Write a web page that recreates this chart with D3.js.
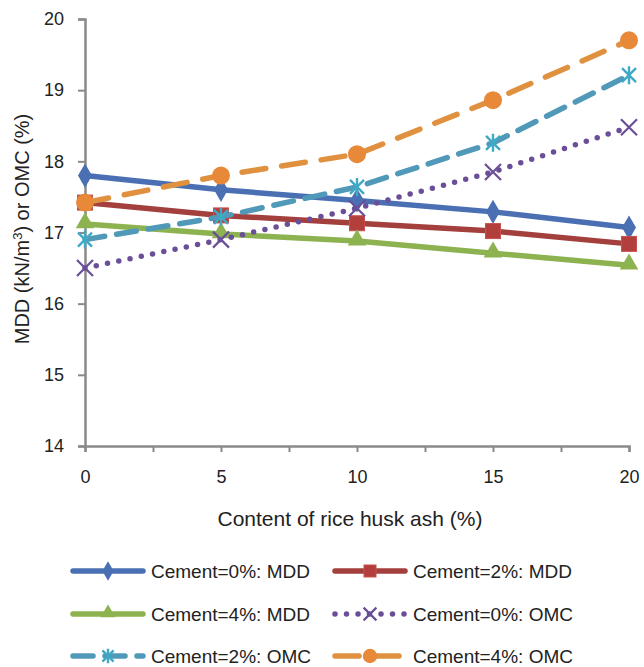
<!DOCTYPE html>
<html>
<head>
  <meta charset="utf-8">
  <title>MDD and OMC vs rice husk ash content</title>
  <style>
    body { margin: 0; background: white; font-family: Arial, "Liberation Sans", sans-serif; }
    .tick text { font-size: 18px; fill: #222; font-family: Arial, "Liberation Sans", sans-serif; }
    .axis-label { font-size: 20px; fill: #222; }
    .legend text { font-size: 19px; fill: #222; }
  </style>
  <script src="https://d3js.org/d3.v7.min.js"></script>
</head>
<body>
  <div id="chart"></div>
  <script>
    // Rice husk ash content (%)
    const ashContent = [0, 5, 10, 15, 20];

    // series values
    const mdd0 = [17.80, 17.60, 17.45, 17.29, 17.07];
    const mdd2 = [17.42, 17.24, 17.13, 17.02, 16.84];
    const mdd4 = [17.12, 16.98, 16.88, 16.71, 16.54];
    const omc0 = [16.50, 16.90, 17.34, 17.85, 18.48];
    const omc2 = [16.90, 17.22, 17.64, 18.26, 19.21];
    const omc4 = [17.42, 17.80, 18.10, 18.86, 19.70];

    const seriesNames = ["Cement=0%: MDD", "Cement=2%: MDD", "Cement=4%: MDD",
                         "Cement=0%: OMC", "Cement=2%: OMC", "Cement=4%: OMC"];
    const xTicks = [0, 5, 10, 15, 20];
    const yTicks = [14, 15, 16, 17, 18, 19, 20];

    const series = [
      { name: seriesNames[0], values: mdd0, color: "#4a70b3", dash: null, marker: "diamond" },
      { name: seriesNames[1], values: mdd2, color: "#a33f3c", dash: null, marker: "square" },
      { name: seriesNames[2], values: mdd4, color: "#8db250", dash: null, marker: "triangle" },
      { name: seriesNames[3], values: omc0, color: "#6a4e98", dash: "0,11.5", marker: "cross" },
      { name: seriesNames[4], values: omc2, color: "#5199b8", dash: "20,12", marker: "star" },
      { name: seriesNames[5], values: omc4, color: "#e0913f", dash: "24,16", marker: "circle" }
    ];

    const W = 644, H = 667;
    const svg = d3.select("#chart").append("svg").attr("width", W).attr("height", H);

    const x = d3.scaleLinear().domain([0, 20]).range([85, 629]);
    const y = d3.scaleLinear().domain([14, 20]).range([446, 19]);

    // axes
    const xAxis = svg.append("g")
      .attr("transform", `translate(0,${y(14)})`)
      .call(d3.axisBottom(x).tickValues(d3.range(0, 20.1, 2.5)).tickSize(6).tickPadding(15)
        .tickFormat(d => xTicks.includes(d) ? d3.format("d")(d) : ""));
    const yAxis = svg.append("g")
      .attr("transform", `translate(${x(0)},0)`)
      .call(d3.axisLeft(y).tickValues(yTicks).tickSize(7).tickPadding(14).tickFormat(d3.format("d")));
    [xAxis, yAxis].forEach(a => {
      a.attr("font-size", null).attr("font-family", null);
      a.select(".domain").attr("stroke", "#8a8a8a").attr("stroke-width", 2.5);
      a.selectAll(".tick line").attr("stroke", "#8a8a8a").attr("stroke-width", 2);
    });
    xAxis.selectAll(".tick text").attr("dy", "0.9em");

    svg.append("text").attr("class", "axis-label")
      .attr("x", 350).attr("y", 526).attr("text-anchor", "middle")
      .style("font-size", "21px")
      .text("Content of rice husk ash (%)");

    const yl = svg.append("text").attr("class", "axis-label")
      .attr("transform", `translate(29,229) rotate(-90)`)
      .attr("text-anchor", "middle");
    yl.append("tspan").text("MDD (kN/m");
    yl.append("tspan").attr("baseline-shift", "super").attr("font-size", "13px").text("3");
    yl.append("tspan").text(") or OMC (%)");

    // marker drawing, s = scale (legend markers are a bit smaller)
    function drawMarker(g, type, color, cx, cy, s = 1) {
      if (type === "diamond") {
        g.append("path").attr("d", d3.symbol(d3.symbolDiamond, 170 * s * s)())
          .attr("transform", `translate(${cx},${cy})`).attr("fill", color);
      } else if (type === "square") {
        const h = 7.5 * s;
        g.append("rect").attr("x", cx - h).attr("y", cy - h).attr("width", 2 * h).attr("height", 2 * h)
          .attr("fill", "#b33f3c").attr("stroke", "#c8504d").attr("stroke-width", 1);
      } else if (type === "triangle") {
        g.append("path").attr("d", d3.symbol(d3.symbolTriangle, 150 * s * s)())
          .attr("transform", `translate(${cx},${cy - 1})`).attr("fill", color);
      } else if (type === "cross") {
        const h = 8 * s;
        g.append("path").attr("d", `M${cx - h},${cy - h}L${cx + h},${cy + h}M${cx - h},${cy + h}L${cx + h},${cy - h}`)
          .attr("stroke", color).attr("stroke-width", 2.2).attr("fill", "none");
      } else if (type === "star") {
        const h = 7 * s, v = 9 * s;
        g.append("path").attr("d", `M${cx - h},${cy - h}L${cx + h},${cy + h}M${cx - h},${cy + h}L${cx + h},${cy - h}M${cx},${cy - v}L${cx},${cy + v}`)
          .attr("stroke", "#3fa9c6").attr("stroke-width", 2.4).attr("fill", "none");
      } else if (type === "circle") {
        g.append("circle").attr("cx", cx).attr("cy", cy).attr("r", 9 * s).attr("fill", "#e8893a");
      }
    }

    const line = d3.line().x((d, i) => x(ashContent[i])).y(d => y(d));
    const plot = svg.append("g");

    // series drawn in legend order, later ones on top
    series.forEach(s => {
      plot.append("path").datum(s.values)
        .attr("d", line)
        .attr("fill", "none")
        .attr("stroke", s.color)
        .attr("stroke-width", 5.5)
        .attr("stroke-linecap", s.dash ? "round" : "butt")
        .attr("stroke-dasharray", s.dash);
      s.values.forEach((v, i) => drawMarker(plot, s.marker, s.color, x(ashContent[i]), y(v)));
    });

    // legend
    const legend = svg.append("g").attr("class", "legend");
    const colX = [73, 335];
    const rowY = [571, 614, 656];
    series.forEach((s, k) => {
      const lx = colX[k % 2], ly = rowY[Math.floor(k / 2)];
      legend.append("line")
        .attr("x1", lx).attr("x2", lx + 70).attr("y1", ly).attr("y2", ly)
        .attr("stroke", s.color).attr("stroke-width", 5.5)
        .attr("stroke-linecap", "round")
        .attr("stroke-dasharray", s.dash);
      drawMarker(legend, s.marker, s.color, lx + 35, ly, 0.8);
      legend.append("text").attr("x", lx + 78).attr("y", ly + 7).text(s.name);
    });
  </script>
</body>
</html>
